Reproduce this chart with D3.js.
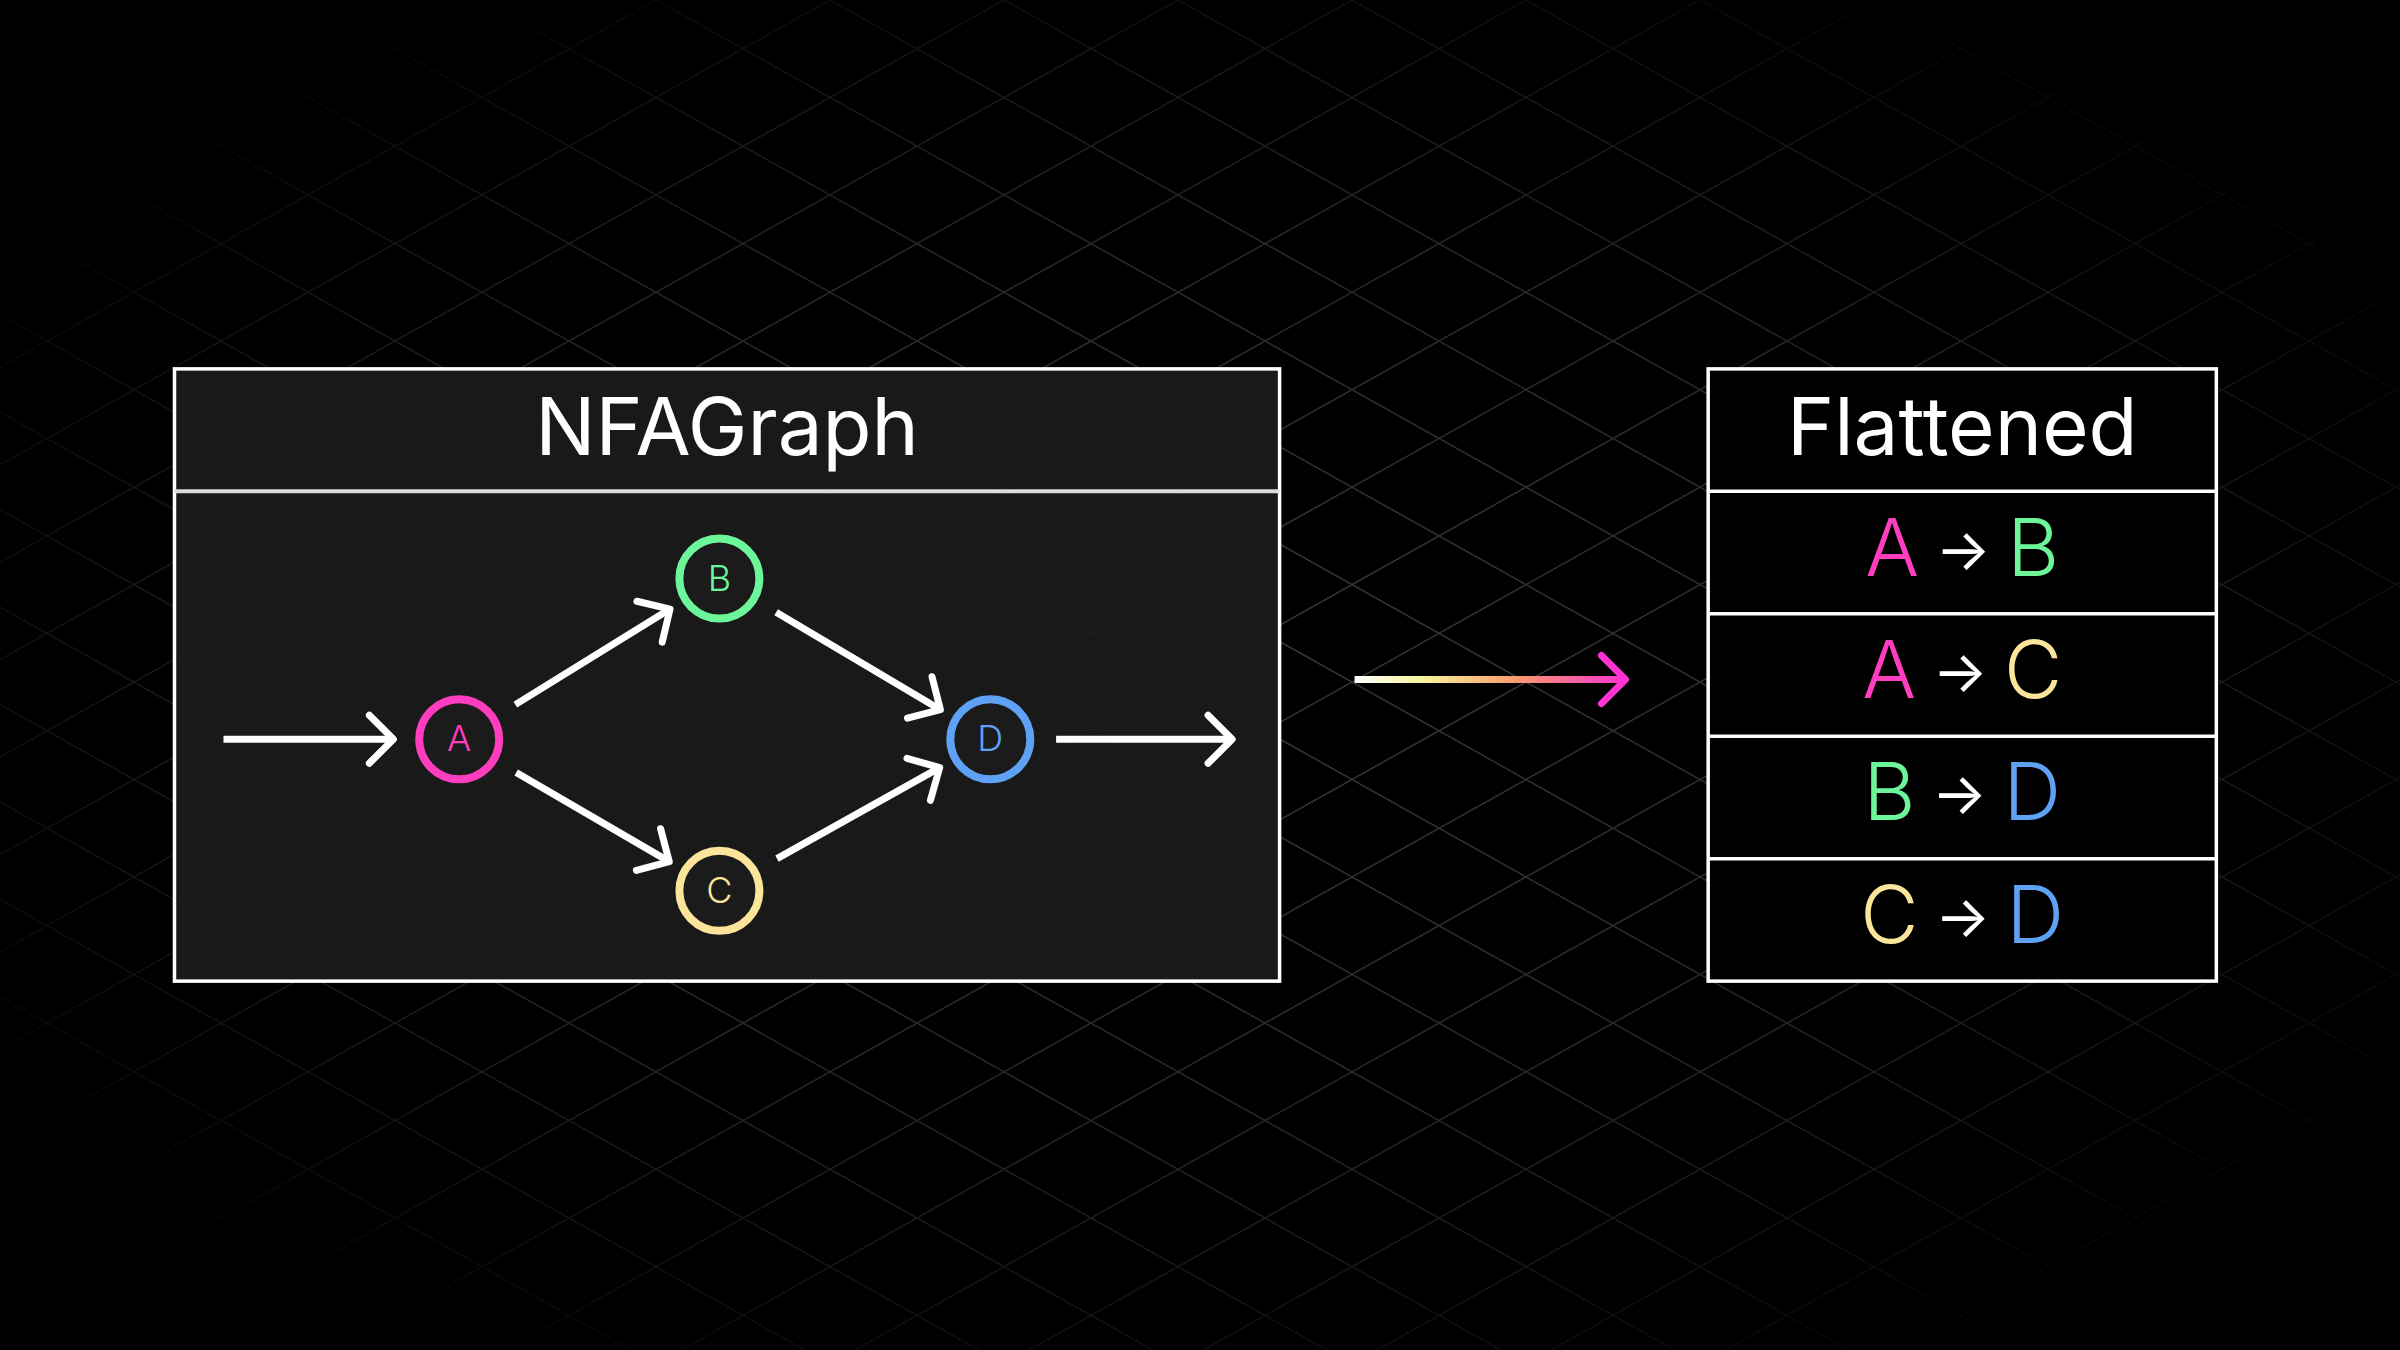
<!DOCTYPE html>
<html><head><meta charset="utf-8">
<script src="https://cdn.jsdelivr.net/npm/d3@7"></script>
<style>html,body{margin:0;background:#000;overflow:hidden}</style>
</head><body><svg id="c" width="2400" height="1350"></svg>
<script>
// layout units: 1568 x 882 design grid
const nodes = [
  {id: "A", x: 300, y: 483, color: "#ff3dbf"},
  {id: "B", x: 470, y: 378, color: "#6df59a"},
  {id: "C", x: 470, y: 582, color: "#fbe59a"},
  {id: "D", x: 647, y: 483, color: "#5fa2f5"},
];
const edges = [["A", "B"], ["A", "C"], ["B", "D"], ["C", "D"]];
const inOut = [[146, 483, 257, 483], [690, 483, 805, 483]];
const rows = [["A", "B"], ["A", "C"], ["B", "D"], ["C", "D"]];
const graphTitle = "NFAGraph", tableTitle = "Flattened";

const W = 2400, H = 1350;
const sx = d3.scaleLinear().domain([0, 1568]).range([0, W]);
const sy = d3.scaleLinear().domain([0, 882]).range([0, H]);
const color = d3.scaleOrdinal().domain(nodes.map(d => d.id)).range(nodes.map(d => d.color));
const byId = new Map(nodes.map(d => [d.id, d]));

const svg = d3.select("#c");
const defs = svg.append("defs");
svg.append("rect").attr("width", W).attr("height", H).attr("fill", "#000");

// background diamond grid with vignette
const rg = defs.append("radialGradient").attr("id", "fade").attr("cx", "50%").attr("cy", "50%").attr("r", "60%");
rg.append("stop").attr("offset", "0%").attr("stop-color", "#fff").attr("stop-opacity", 1);
rg.append("stop").attr("offset", "55%").attr("stop-color", "#fff").attr("stop-opacity", 0.7);
rg.append("stop").attr("offset", "100%").attr("stop-color", "#fff").attr("stop-opacity", 0);
defs.append("mask").attr("id", "m").append("rect").attr("width", W).attr("height", H).attr("fill", "url(#fade)");
function drawGrid(g, op) {
  const slope = 0.56, step = 174;
  for (let k = -20; k < 30; k++) {
    const x0 = k * step - 40;
    g.append("line").attr("x1", x0).attr("y1", 0).attr("x2", x0 + H / slope).attr("y2", H);
    g.append("line").attr("x1", x0).attr("y1", 0).attr("x2", x0 - H / slope).attr("y2", H);
  }
  g.attr("stroke", "#3a3a3a").attr("stroke-width", 1.5).attr("opacity", op);
}
drawGrid(svg.append("g").attr("mask", "url(#m)"), 1);

// left box
const L = {x0: 114, x1: 836, y0: 241, y1: 641, yh: 321};
svg.append("rect").attr("x", sx(L.x0)).attr("y", sy(L.y0)).attr("width", sx(L.x1 - L.x0)).attr("height", sy(L.y1 - L.y0))
  .attr("fill", "#1b1b1b").attr("fill-opacity", 0.93).attr("stroke", "#fff").attr("stroke-width", 3.5);
svg.append("line").attr("x1", sx(L.x0)).attr("x2", sx(L.x1)).attr("y1", sy(L.yh)).attr("y2", sy(L.yh))
  .attr("stroke", "#ddd").attr("stroke-width", 4);
svg.append("text").attr("x", sx((L.x0 + L.x1) / 2)).attr("y", sy(297)).attr("text-anchor", "middle")
  .attr("font-family", "Inter").attr("font-size", 80).attr("fill", "#fff").text(graphTitle);

function arrow(g, x1, y1, x2, y2, stroke, head) {
  g.append("line").attr("x1", x1).attr("y1", y1).attr("x2", x2).attr("y2", y2)
    .attr("stroke", stroke).attr("stroke-width", 7).attr("stroke-linecap", "butt");
  const a = Math.atan2(y2 - y1, x2 - x1), len = 34, sp = Math.PI / 4;
  const p = [[x2 - len * Math.cos(a - sp), y2 - len * Math.sin(a - sp)], [x2, y2], [x2 - len * Math.cos(a + sp), y2 - len * Math.sin(a + sp)]];
  g.append("path").attr("d", d3.line()(p)).attr("fill", "none").attr("stroke", head || stroke)
    .attr("stroke-width", 7).attr("stroke-linecap", "round").attr("stroke-linejoin", "round");
}
const ag = svg.append("g");
inOut.forEach(d => arrow(ag, sx(d[0]), sy(d[1]), sx(d[2]), sy(d[3]), "#fff"));
edges.forEach(([s, t]) => {
  const a = byId.get(s), b = byId.get(t);
  const x1 = sx(a.x), y1 = sy(a.y), x2 = sx(b.x), y2 = sy(b.y);
  const dx = x2 - x1, dy = y2 - y1, l = Math.hypot(dx, dy);
  arrow(ag, x1 + dx / l * 66, y1 + dy / l * 66, x2 - dx / l * 58, y2 - dy / l * 58, "#fff");
});
const ng = svg.selectAll(".n").data(nodes).join("g").attr("transform", d => `translate(${sx(d.x)},${sy(d.y)})`);
ng.append("circle").attr("r", 40).attr("fill", "#1b1b1b").attr("stroke", d => color(d.id)).attr("stroke-width", 8);
ng.append("text").attr("text-anchor", "middle").attr("dy", 12).attr("font-family", "Inter").attr("font-weight", 300)
  .attr("font-size", 36).attr("fill", d => color(d.id)).text(d => d.id);

// gradient arrow
const lg = defs.append("linearGradient").attr("id", "ga").attr("gradientUnits", "userSpaceOnUse")
  .attr("x1", sx(885)).attr("x2", sx(1062)).attr("y1", 0).attr("y2", 0);
[["0%", "#ffffff"], ["25%", "#f6f59a"], ["60%", "#fa9a6f"], ["100%", "#ff33d2"]].forEach(s =>
  lg.append("stop").attr("offset", s[0]).attr("stop-color", s[1]));
arrow(svg.append("g"), sx(885), sy(444), sx(1062), sy(444), "url(#ga)", "#ff33d2");

// right table
const R = {x0: 1116, x1: 1448, y0: 241, rh: 80};
const cx = sx((R.x0 + R.x1) / 2);
const tg = svg.append("g");
tg.append("rect").attr("x", sx(R.x0)).attr("y", sy(R.y0)).attr("width", sx(R.x1 - R.x0)).attr("height", sy(R.rh * 5))
  .attr("fill", "#000").attr("stroke", "#fff").attr("stroke-width", 3.5);
rows.forEach((r, i) => tg.append("line").attr("x1", sx(R.x0)).attr("x2", sx(R.x1))
  .attr("y1", sy(R.y0 + R.rh * (i + 1))).attr("y2", sy(R.y0 + R.rh * (i + 1))).attr("stroke", "#fff").attr("stroke-width", 3.5));
tg.append("text").attr("x", cx).attr("y", sy(297)).attr("text-anchor", "middle")
  .attr("font-family", "Inter").attr("font-size", 80).attr("fill", "#fff").text(tableTitle);
rows.forEach((r, i) => {
  const y = sy(R.y0 + R.rh * (i + 1) + 55);
  const t = tg.append("text").attr("x", cx).attr("y", y).attr("text-anchor", "middle")
    .attr("font-family", "Inter").attr("font-weight", 300).attr("font-size", 80);
  t.append("tspan").attr("fill", color(r[0])).text(r[0]);
  t.append("tspan").attr("fill", "#fff").attr("font-size", 58).attr("font-weight", 400).attr("dy", -6).text(" → ");
  t.append("tspan").attr("fill", color(r[1])).attr("dy", 6).text(r[1]);
});
</script></body></html>
